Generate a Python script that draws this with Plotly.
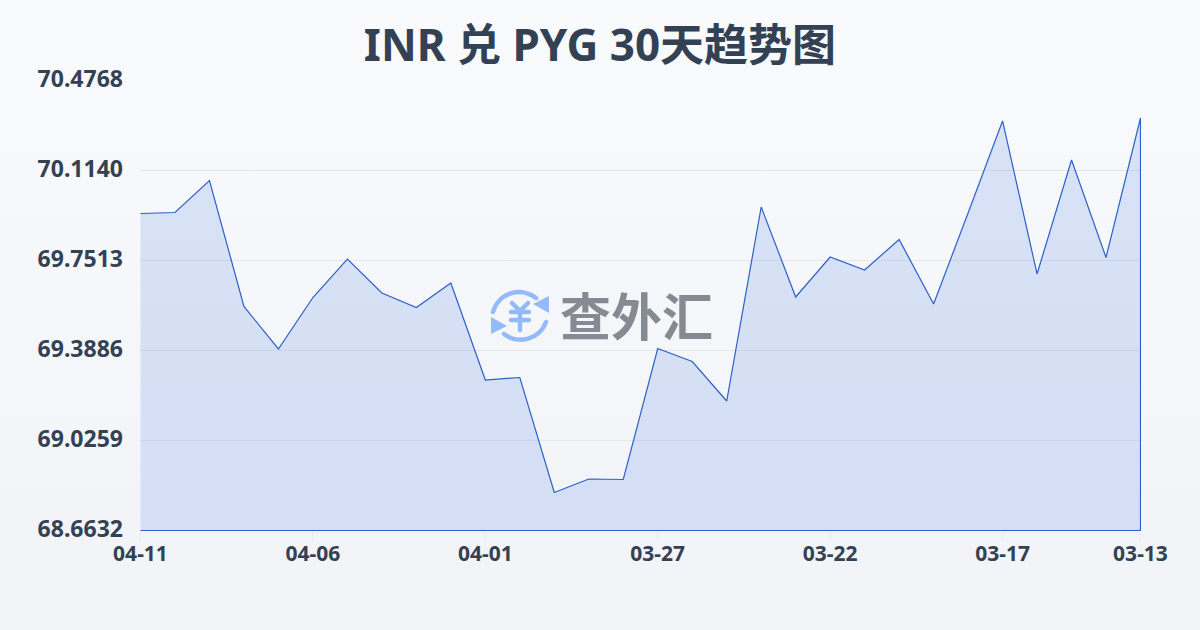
import base64
import plotly.graph_objects as go

dates = ["04-11","04-10","04-09","04-08","04-07","04-06","04-05","04-04","04-03","04-02","04-01",
         "03-31","03-30","03-29","03-28","03-27","03-26","03-25","03-24","03-23","03-22","03-21",
         "03-20","03-19","03-18","03-17","03-16","03-15","03-14","03-13"]
rates = [69.9408,69.9448,70.0738,69.5660,69.3947,69.6022,69.7574,69.6204,69.5619,69.6607,
         69.2697,69.2798,68.8163,68.8708,68.8687,69.3967,69.3443,69.1851,69.9670,69.6043,
         69.7655,69.7131,69.8360,69.5761,69.9428,70.3136,69.6970,70.1564,69.7635,70.3257]
x_ticks = ["04-11","04-06","04-01","03-27","03-22","03-17","03-13"]
y_ticks = [68.6632,69.0259,69.3886,69.7513,70.1140,70.4768]
y_labels = ["68.6632","69.0259","69.3886","69.7513","70.1140","70.4768"]
title = "INR 兑 PYG 30天趋势图"
watermark = "查外汇"

INK = "#334155"
FONT = "'Noto Sans', 'Noto Sans CJK SC', sans-serif"

icon = """<svg xmlns='http://www.w3.org/2000/svg' viewBox='0 0 61 60'>
<g fill='none' stroke='#93bbfb' stroke-width='4.5' stroke-linecap='round' stroke-linejoin='round'>
<path d='M4 27 A27 27 0 0 1 47 13'/><path d='M57 37 A27 27 0 0 1 15 49'/>
<path d='M23 18 L31 26 L39 18 M31 26 V45 M22 27 H40 M22 35 H40'/></g>
<path d='M60 11 L60 28 L44 19 Z M2 32 L2 49 L18 41 Z' fill='#93bbfb'/></svg>"""
icon_uri = "data:image/svg+xml;base64," + base64.b64encode(icon.encode()).decode()

# half-pixel padding of the axis ranges keeps the outline crisp on whole pixels
L, R, T, B = 140, 59, 80, 99
W, H = 1200 - L - R, 630 - T - B
dx = (len(dates) - 1) / (W - 1) * 0.5
dy = (y_ticks[-1] - y_ticks[0]) / (H - 1) * 0.5

fig = go.Figure(go.Scatter(
    x=dates + [dates[-1], dates[0]],
    y=rates + [y_ticks[0], y_ticks[0]],
    mode="lines", fill="toself", fillcolor="rgba(35,90,225,0.14)", cliponaxis=False,
    line=dict(color="#2b60c8", width=1.2), hoverinfo="skip"))

fig.update_layout(
    width=1200, height=630, margin=dict(l=L, r=R, t=T, b=B),
    paper_bgcolor="rgba(0,0,0,0)", plot_bgcolor="rgba(0,0,0,0)", showlegend=False,
    font=dict(family=FONT, color=INK),
    title=dict(text=f"<b>{title}</b>", x=0.5, xanchor="center", y=0.928, yanchor="middle",
               font=dict(size=44, family=FONT, color=INK)),
    xaxis=dict(type="category", categoryorder="array", categoryarray=dates, range=[-dx, len(dates)-1+dx],
               tickmode="array", tickvals=x_ticks, ticktext=[f"<b>{t}</b>" for t in x_ticks],
               ticks="outside", ticklen=10, tickcolor="#e8eaee", tickwidth=1, ticklabelstandoff=-6,
               showgrid=False, zeroline=False, showline=False, tickfont=dict(size=21, color=INK, family=FONT)),
    yaxis=dict(range=[y_ticks[0]-dy, y_ticks[-1]+dy], tickmode="array", tickvals=y_ticks,
               ticktext=[f"<b>{t}</b>" for t in y_labels], ticks="", ticklabelstandoff=16, ticklabelshift=-2,
               showgrid=True, gridcolor="#e5e7eb", gridwidth=1, zeroline=False, showline=False,
               tickfont=dict(size=23, color=INK, family=FONT)),
    images=[dict(source=icon_uri, xref="paper", yref="paper", x=(489-L)/W, y=1-(285-T)/H,
                 sizex=61/W, sizey=60/H, xanchor="left", yanchor="top", layer="above")],
    annotations=[dict(text=f"<b>{watermark}</b>", xref="paper", yref="paper",
                      x=(636-L)/W, y=1-(314-T)/H, showarrow=False, xanchor="center", yanchor="middle",
                      font=dict(size=51, color="#868a92", family="'Noto Sans CJK SC'"))],
)

post = """document.documentElement.style.height='100%';
document.body.style.margin='0';
document.body.style.height='630px';
document.body.style.background='linear-gradient(180deg,#f8fafc 0%,#f1f3f6 100%)';"""
fig.write_html("out.html", post_script=post, config=dict(displayModeBar=False))
